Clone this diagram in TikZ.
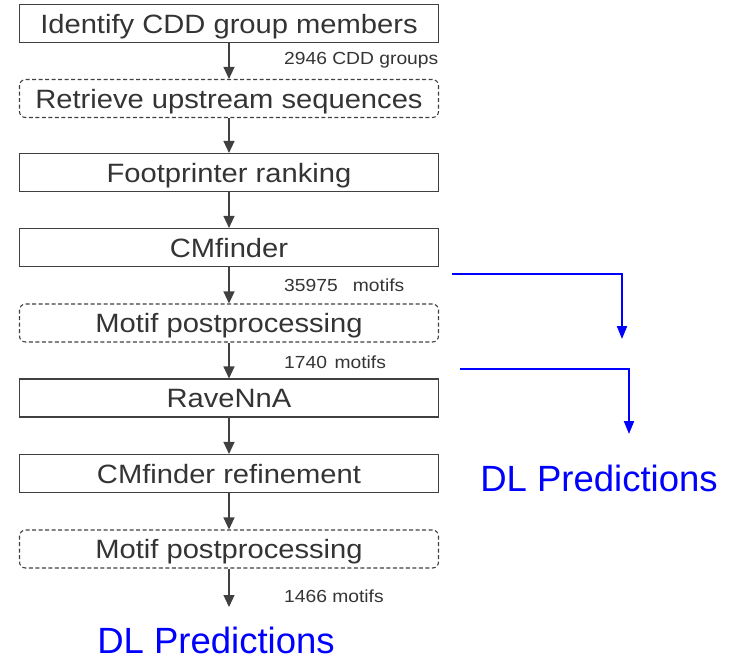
\documentclass[tikz,border=0pt]{standalone}
\usepackage{fontspec}
\setmainfont{Liberation Sans}
\usetikzlibrary{arrows.meta}
\definecolor{gtext}{RGB}{52,52,52}
\definecolor{gline}{RGB}{64,64,64}
\definecolor{dlblue}{RGB}{0,0,255}
\newcommand{\boxtext}[1]{\scalebox{1.1}[1]{\fontsize{26.5}{30}\selectfont #1}}
\newcommand{\cnttext}[1]{\scalebox{1.1}[1]{\fontsize{17.5}{20}\selectfont #1}}
\begin{document}
\begin{tikzpicture}[x=1pt,y=-1pt,
  stepbox/.style={draw=gline, line width=1.1pt, minimum width=419pt, minimum height=38pt, inner sep=0pt, text height=19pt, text depth=0pt, text=gtext},
  dashbox/.style={stepbox, dash pattern=on 4pt off 2.5pt, rounded corners=6pt},
  flow/.style={gline, line width=1.2pt, -{Triangle[width=11pt,length=12pt]}},
  dlarrow/.style={dlblue, line width=2pt, -{Triangle[width=10pt,length=13pt]}},
  cnt/.style={anchor=west, text=gtext, inner sep=0pt},
  dltext/.style={text=dlblue, inner sep=0pt, text height=27pt, text depth=0pt, font=\fontsize{36.5}{40}\selectfont}]
\useasboundingbox (0,0) rectangle (729,664);
\node[stepbox] (n1) at (229,23.5) {\boxtext{Identify CDD group members}};
\node[dashbox] (n2) at (229,98.5) {\boxtext{Retrieve upstream sequences}};
\node[stepbox] (n3) at (229,172.5) {\boxtext{Footprinter ranking}};
\node[stepbox] (n4) at (229,247.5) {\boxtext{CMfinder}};
\node[dashbox] (n5) at (229,323) {\boxtext{Motif postprocessing}};
\node[stepbox] (n6) at (229,398) {\boxtext{RaveNnA}};
\node[stepbox] (n7) at (229,473.5) {\boxtext{CMfinder refinement}};
\node[dashbox] (n8) at (229,549) {\boxtext{Motif postprocessing}};
\coordinate (end) at (229,607);
\draw[flow] (n1) -- (n2);
\draw[flow] (n2) -- (n3);
\draw[flow] (n3) -- (n4);
\draw[flow] (n4) -- (n5);
\draw[flow] (n5) -- (n6);
\draw[flow] (n6) -- (n7);
\draw[flow] (n7) -- (n8);
\draw[flow] (n8) -- (end);
\node[cnt] (l1) at (284,60) {\cnttext{2946 CDD groups}};
\node[cnt] (l2) at (284,285) {\cnttext{35975\hspace{9pt} motifs}};
\node[cnt] (l3) at (284,362) {\cnttext{1740\hspace{2pt} motifs}};
\node[cnt] (l4) at (284,596) {\cnttext{1466 motifs}};
\node[dltext] (dl1) at (216,640) {DL Predictions};
\node[dltext] (dl2) at (599,478) {DL Predictions};
\coordinate (b1s) at (452,274);
\coordinate (b1e) at (622,339);
\coordinate (b2s) at (460,369);
\coordinate (b2e) at (629,434);
\draw[dlarrow] (b1s) -| (b1e);
\draw[dlarrow] (b2s) -| (b2e);
\end{tikzpicture}
\end{document}
